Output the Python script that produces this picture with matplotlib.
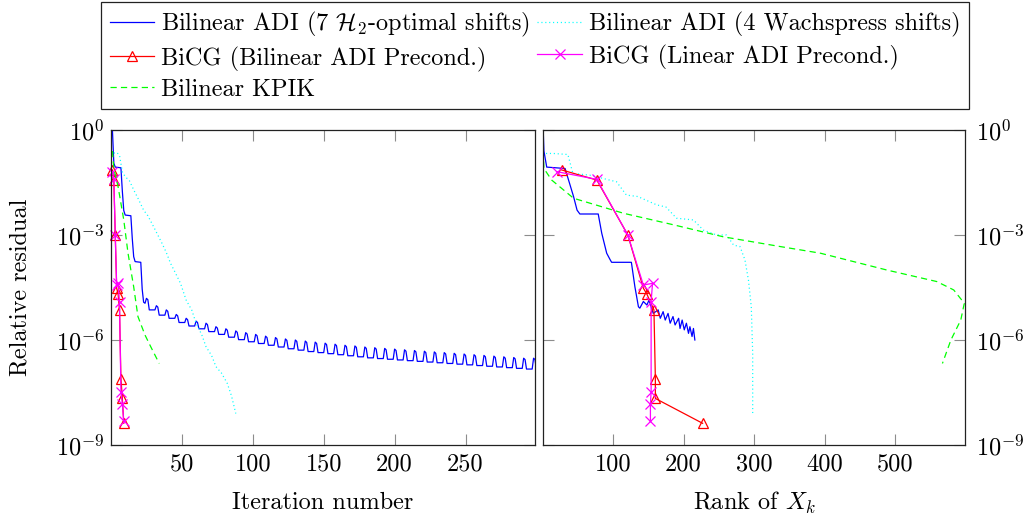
import numpy as np
import matplotlib
matplotlib.use("Agg")
import matplotlib.pyplot as plt
from matplotlib.ticker import NullLocator, FixedLocator, FixedFormatter

plt.rcParams['font.family'] = 'cmr10'
plt.rcParams['mathtext.fontset'] = 'cm'
plt.rcParams['axes.unicode_minus'] = False
plt.rcParams['lines.scale_dashes'] = False

# ---------------- data (log10 of relative residual) ----------------
# Left panel: residual vs iteration number
adi_pre_it = [1, 2, 3, 7, 8, 9, 10, 14, 15, 16, 17, 21, 22, 23, 24]
adi_pre_log = [0.0, -0.95, -1.06, -1.08, -1.75, -2.3, -2.43, -2.45, -3.1, -3.62, -3.76, -3.78, -4.55, -4.92, -4.95]
adi_spike_it = [25, 32, 39, 46, 53, 60, 67, 74, 81, 88, 95, 102, 109, 116, 123, 130, 137, 144,
                151, 158, 165, 172, 179, 186, 193, 200, 207, 214, 221, 228, 235, 242, 249, 256,
                263, 270, 277, 284, 291, 298]
adi_peak_log = [-4.81, -5.02, -5.14, -5.27, -5.38, -5.46, -5.52, -5.62, -5.68, -5.74, -5.79, -5.84,
                -5.89, -5.93, -5.97, -6.00, -6.03, -6.06, -6.09, -6.12, -6.15, -6.17, -6.20, -6.22,
                -6.24, -6.26, -6.28, -6.30, -6.32, -6.34, -6.36, -6.38, -6.40, -6.42, -6.44, -6.46,
                -6.48, -6.50, -6.52, -6.52]
adi_trough_log = [-5.14, -5.29, -5.38, -5.50, -5.60, -5.68, -5.76, -5.84, -5.92, -5.99, -6.05, -6.10,
                  -6.15, -6.20, -6.25, -6.29, -6.33, -6.36, -6.39, -6.42, -6.45, -6.48, -6.51, -6.53,
                  -6.55, -6.57, -6.59, -6.61, -6.63, -6.65, -6.67, -6.69, -6.71, -6.73, -6.75, -6.77,
                  -6.79, -6.81, -6.83, -6.84]

wach_it = [2, 4, 6, 8, 10, 13, 16, 19, 23, 26, 30, 33, 36, 39, 42, 45, 49, 53, 57, 60, 64, 67, 71, 74, 78, 82, 85, 88]
wach_log = [-0.66, -0.64, -0.72, -1.2, -1.33, -1.45, -1.71, -1.95, -2.29, -2.45, -2.76, -3.0, -3.24,
            -3.5, -3.81, -4.05, -4.38, -4.86, -5.15, -5.52, -5.85, -6.19, -6.45, -6.76, -6.95, -7.24, -7.6, -8.1]

bicg_bil_it = [1, 2, 3, 4, 5, 6, 7, 8, 9]
bicg_bil_log = [-1.14, -1.43, -3.0, -4.52, -4.69, -5.14, -7.1, -7.67, -8.38]
bicg_lin_it = [1, 2, 3, 4, 5, 6, 7, 8, 9]
bicg_lin_log = [-1.19, -1.41, -3.0, -4.43, -4.38, -4.9, -7.48, -7.83, -8.3]

kpik_it = [1, 2, 5, 9, 12, 16, 19, 24, 28, 34]
kpik_log = [-0.6, -1.1, -1.62, -2.57, -3.52, -4.48, -5.33, -5.86, -6.19, -6.67]

# Right panel: residual vs rank of X_k
adi_rank = [1, 2, 6, 32, 44, 49, 53, 79, 84, 91, 96, 98, 126, 131, 136, 138, 143, 148, 151, 157,
            164, 167, 171, 174, 178, 181, 185, 188, 193, 195, 198, 201, 204, 207, 209, 212, 214, 216]
adi_rank_log = [0.0, -0.6, -1.06, -1.10, -1.90, -2.29, -2.40, -2.40, -2.95, -3.52, -3.71, -3.78,
                -3.78, -4.48, -5.05, -5.09, -4.9, -5.0, -4.86, -5.24, -5.14, -5.38, -5.19, -5.43,
                -5.24, -5.52, -5.33, -5.57, -5.38, -5.67, -5.43, -5.71, -5.52, -5.81, -5.62, -5.9,
                -5.67, -6.0]

wach_rank = [5, 15, 36, 43, 67, 105, 119, 135, 162, 175, 190, 214, 228, 247, 261, 271, 280, 287, 292, 296, 298, 298]
wach_rank_log = [-0.67, -0.67, -0.7, -1.24, -1.29, -1.48, -1.86, -1.9, -2.14, -2.2, -2.52, -2.57,
                 -2.86, -3.0, -3.0, -3.29, -3.33, -3.71, -4.29, -5.05, -6.38, -8.14]

bicg_bil_rank = [27, 77, 121, 143, 148, 158, 160, 160, 227]
bicg_lin_rank = [20, 77, 121, 143, 156, 154, 154, 153, 153]
bicg_lin_rank_log = [-1.19, -1.41, -3.0, -4.43, -4.38, -4.9, -7.48, -7.83, -8.3]

kpik_rank = [1, 2, 13, 44, 115, 186, 256, 337, 394, 488, 559, 583, 598, 593, 579, 567]
kpik_rank_log = [-0.6, -1.1, -1.43, -1.95, -2.38, -2.71, -3.05, -3.33, -3.52, -4.0, -4.33, -4.57,
                 -4.95, -5.43, -6.0, -6.67]

labels = [r'Bilinear ADI (7 $\mathcal{H}_2$-optimal shifts)',
          'BiCG (Bilinear ADI Precond.)',
          'Bilinear KPIK',
          'Bilinear ADI (4 Wachspress shifts)',
          'BiCG (Linear ADI Precond.)']
ytick_vals = [0, -3, -6, -9]
ytick_labels = [r'$10^{0}$', r'$10^{-3}$', r'$10^{-6}$', r'$10^{-9}$']

# ---------------- build ADI polyline from per-cycle levels ----------------
adi_x = list(adi_pre_it)
adi_y = list(adi_pre_log)
prev = adi_pre_log[-1]
for p, pk, tr in zip(adi_spike_it, adi_peak_log, adi_trough_log):
    adi_x += [p - 1, p, p + 1, p + 2]
    adi_y += [prev, pk, pk - 0.04, tr]
    prev = tr

def pw(v):
    return 10.0 ** np.asarray(v, dtype=float)

FS = 17.5
fig = plt.figure(figsize=(10.26, 5.19), dpi=100)
W, H = 1026.0, 519.0
ax1 = fig.add_axes([111 / W, 1 - 445 / H, (535 - 111) / W, (445 - 130) / H])
ax2 = fig.add_axes([542.5 / W, 1 - 445 / H, (965 - 542.5) / W, (445 - 130) / H])

lw = 0.9
blue, cyan, red, mag, green = '#0000ff', '#00ffff', '#ff0000', '#ff00ff', '#00ff00'
dash = (0, (4.5, 3.0))
dot = (0, (0.8, 2.0))

def draw(ax, series):
    hs = []
    for x, y, kw in series:
        h, = ax.semilogy(x, pw(y), **kw)
        hs.append(h)
    return hs

kw_blue = dict(color=blue, lw=lw)
kw_cyan = dict(color=cyan, lw=lw, linestyle=dot)
kw_red = dict(color=red, lw=lw, marker='^', markersize=7, markerfacecolor='none',
              markeredgecolor=red, markeredgewidth=0.9, clip_on=False)
kw_mag = dict(color=mag, lw=lw, marker='x', markersize=6.5, markeredgewidth=0.9, clip_on=False)
kw_green = dict(color=green, lw=lw, linestyle=dash)

h = draw(ax1, [(adi_x, adi_y, kw_blue), (wach_it, wach_log, kw_cyan),
               (bicg_bil_it, bicg_bil_log, kw_red), (bicg_lin_it, bicg_lin_log, kw_mag),
               (kpik_it, kpik_log, kw_green)])
draw(ax2, [(adi_rank, adi_rank_log, kw_blue), (wach_rank, wach_rank_log, kw_cyan),
           (bicg_bil_rank, bicg_bil_log, kw_red), (bicg_lin_rank, bicg_lin_rank_log, kw_mag),
           (kpik_rank, kpik_rank_log, kw_green)])

ax1.set_xlim(0, 299)
ax2.set_xlim(0, 599)
for ax in (ax1, ax2):
    ax.set_ylim(1e-9, 1e0)
    ax.yaxis.set_major_locator(FixedLocator(list(pw(ytick_vals))))
    ax.yaxis.set_major_formatter(FixedFormatter(ytick_labels))
    ax.yaxis.set_minor_locator(NullLocator())
    ax.xaxis.set_minor_locator(NullLocator())
    ax.tick_params(which='major', direction='in', length=8, width=0.8, color='#8c8c8c',
                   top=True, bottom=True, left=True, right=True, labelsize=FS, pad=6)
    for s in ax.spines.values():
        s.set_linewidth(0.9)
        s.set_color('#222222')
ax1.set_xticks([50, 100, 150, 200, 250])
ax2.set_xticks([100, 200, 300, 400, 500])
ax1.tick_params(labelleft=True, labelright=False)
ax2.tick_params(labelleft=False, labelright=True)
ax2.tick_params(axis='y', pad=8)
ax1.tick_params(axis='y', pad=5)

fig.text(323 / W, 1 - 503 / H, 'Iteration number', ha='center', va='center', fontsize=FS)
fig.text(754 / W, 1 - 503 / H, r'Rank of $X_k$', ha='center', va='center', fontsize=FS)
fig.text(20 / W, 1 - 287.5 / H, 'Relative residual', ha='center', va='center',
         rotation=90, fontsize=FS)

handles = [h[0], h[2], h[4], h[1], h[3]]
leg = fig.legend(handles, labels, ncol=2, loc='upper left',
                 bbox_to_anchor=(101 / W, 1 - 1.5 / H), fontsize=FS,
                 frameon=True, fancybox=False, edgecolor='#222222', framealpha=1,
                 borderpad=0.35, handlelength=1.85, handletextpad=0.28,
                 columnspacing=0.3, labelspacing=0.3, borderaxespad=0, numpoints=1)
leg.get_frame().set_linewidth(0.9)

fig.savefig('out.png', dpi=100)
